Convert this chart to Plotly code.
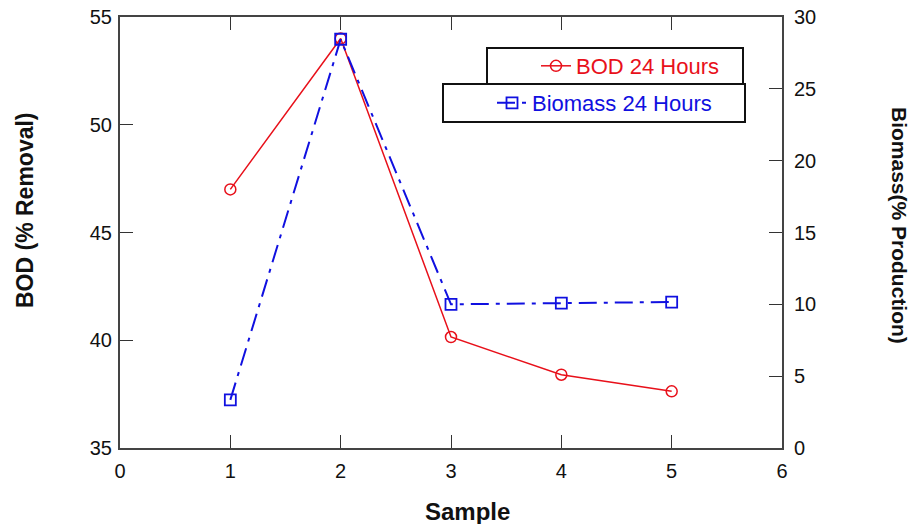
import plotly.graph_objects as go

samples = [1, 2, 3, 4, 5]
bod_24h = [47.0, 54.0, 40.15, 38.4, 37.63]
biomass_24h = [3.35, 28.45, 10.0, 10.09, 10.16]

x_ticks = [0, 1, 2, 3, 4, 5, 6]
y_ticks = [35, 40, 45, 50, 55]
y2_ticks = [0, 5, 10, 15, 20, 25, 30]

W, H = 916, 524
L, R, T, B = 120, 782, 17, 448
FONT = "Liberation Sans, Arial, sans-serif"
AX = "#444444"


def px(x):
    return (x - L) / (R - L)


def py(y):
    return (B - y) / (B - T)


fig = go.Figure()
fig.add_trace(go.Scatter(
    x=samples, y=bod_24h, name="BOD 24 Hours", mode="lines+markers",
    line=dict(color="#e8101a", width=1.5),
    marker=dict(symbol="circle-open", size=11, color="#e8101a", line=dict(width=1.5)),
    legend="legend", showlegend=True,
))
fig.add_trace(go.Scatter(
    x=samples, y=biomass_24h, name="Biomass 24 Hours", mode="lines+markers",
    line=dict(color="#1010e0", width=2, dash="18px,7px,4px,7px"),
    marker=dict(symbol="square-open", size=11, color="#1010e0", line=dict(width=1.8)),
    yaxis="y2", legend="legend2", showlegend=True,
))

axis_common = dict(
    showgrid=False, zeroline=False, showline=True, linecolor=AX, linewidth=2,
    ticks="inside", ticklen=13, tickwidth=1.2, tickcolor="#333333",
    tickfont=dict(family=FONT, size=20, color="#111111"),
    automargin=False, ticklabeloverflow="allow",
)

fig.update_layout(
    width=W, height=H,
    margin=dict(l=L, r=W - R, t=T, b=H - B),
    paper_bgcolor="white", plot_bgcolor="white",
    font=dict(family=FONT),
    showlegend=True,
    xaxis=dict(range=[0, 6], tickvals=x_ticks, mirror="ticks", ticklabelstandoff=4, **axis_common),
    yaxis=dict(range=[35, 55], tickvals=y_ticks, ticklabelstandoff=2, **axis_common),
    yaxis2=dict(range=[0, 30], tickvals=y2_ticks, overlaying="y", side="right",
                ticklabelstandoff=6, **axis_common),
    legend=dict(x=px(536), y=py(66), xanchor="left", yanchor="middle",
                bgcolor="rgba(0,0,0,0)", borderwidth=0,
                font=dict(family=FONT, size=22, color="#e8101a")),
    legend2=dict(x=px(492), y=py(103), xanchor="left", yanchor="middle",
                 bgcolor="rgba(0,0,0,0)", borderwidth=0,
                 font=dict(family=FONT, size=22, color="#1010e0")),
    shapes=[
        dict(type="rect", xref="paper", yref="paper", x0=px(487), x1=px(743), y0=py(84), y1=py(48),
             line=dict(color="#111111", width=2), fillcolor="rgba(0,0,0,0)"),
        dict(type="rect", xref="paper", yref="paper", x0=px(443), x1=px(745), y0=py(122), y1=py(84),
             line=dict(color="#111111", width=2), fillcolor="rgba(0,0,0,0)"),
    ],
    annotations=[
        dict(text="<b>Sample</b>", xref="paper", yref="paper", x=px(468), y=py(511),
             xanchor="center", yanchor="middle",
             showarrow=False, font=dict(family=FONT, size=24, color="#111111")),
        dict(text="<b>BOD (% Removal)</b>", xref="paper", yref="paper", x=px(25), y=py(210),
             xanchor="center", yanchor="middle",
             textangle=-90, showarrow=False, font=dict(family=FONT, size=23, color="#111111")),
        dict(text="<b>Biomass(% Production)</b>", xref="paper", yref="paper", x=px(900), y=py(225),
             xanchor="center", yanchor="middle",
             textangle=90, showarrow=False, font=dict(family=FONT, size=21, color="#111111")),
    ],
)

fig.write_html(
    "out.html",
    config={"displayModeBar": False},
    post_script="document.body.style.margin='0';document.body.style.overflow='hidden';",
)
